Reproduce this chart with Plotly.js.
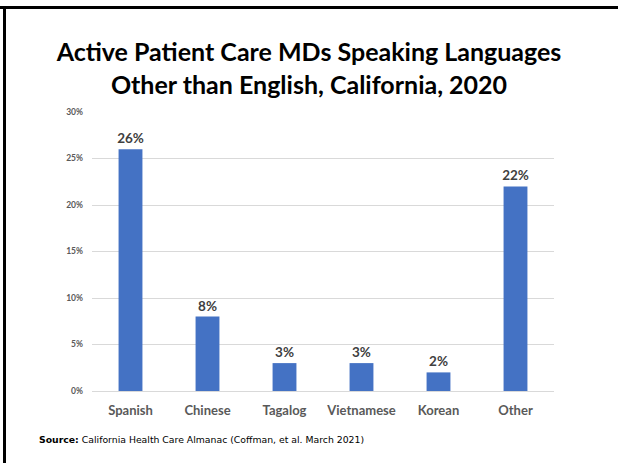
<!DOCTYPE html>
<html><head><meta charset="utf-8">
<script src="https://cdn.plot.ly/plotly-3.0.1.min.js"></script>
<style>html,body{margin:0;padding:0;background:#fff}#c{width:618px;height:463px}</style>
</head><body><div id="c"></div>
<script>
const categories = ["Spanish","Chinese","Tagalog","Vietnamese","Korean","Other"];
const shares = [26, 8, 3, 3, 2, 22];
const tickValues = [0,5,10,15,20,25,30];
const tickLabels = ["0%","5%","10%","15%","20%","25%","30%"];

const W=618,H=463,L=92,R=64,T=112,B=72;
const pw=W-L-R, ph=H-T-B;
const px = x => (x-L)/pw;
const py = y => (H-B-y)/ph;

Plotly.newPlot('c', [{
  type:'bar', x:categories, y:shares,
  marker:{color:'#4472C4'},
  text:shares.map(v=>v+'%'), textposition:'outside', cliponaxis:false, constraintext:'none',
  textfont:{family:'Lato, sans-serif', size:13.5, color:'#404040', weight:'bold'},
  hoverinfo:'none'
}], {
  width:W, height:H, margin:{l:L,r:R,t:T,b:B},
  paper_bgcolor:'#fff', plot_bgcolor:'#fff',
  bargap:0.69, showlegend:false,
  title:{text:'<b>Active Patient Care MDs Speaking Languages<br>Other than English, California, 2020</b>',
    font:{family:'Lato, sans-serif', size:25, color:'#000'}, x:0.5, xanchor:'center', y:1-61/H, yanchor:'middle'},
  xaxis:{tickfont:{family:'Lato, sans-serif', size:13, color:'#595959', weight:'bold'}, showline:false, ticks:'', ticklabelstandoff:10},
  yaxis:{range:[0,30], tickvals:tickValues, ticktext:tickLabels, gridcolor:'#d9d9d9', gridwidth:1,
    zeroline:true, zerolinecolor:'#d9d9d9', zerolinewidth:1,
    tickfont:{family:'Lato, sans-serif', size:8.5, color:'#595959', weight:'bold'}, ticklen:0, ticks:'', ticklabelstandoff:8},
  shapes:[
    {type:'line', xref:'paper', yref:'paper', x0:px(0), x1:px(W), y0:py(7.5), y1:py(7.5), line:{color:'#000', width:3}},
    {type:'line', xref:'paper', yref:'paper', x0:px(4.5), x1:px(4.5), y0:py(6), y1:py(H), line:{color:'#000', width:3}}
  ],
  annotations:[{xref:'paper', yref:'paper', x:px(37), y:py(439), xanchor:'left', yanchor:'middle', showarrow:false,
    text:'<b>Source:</b> California Health Care Almanac (Coffman, et al. March 2021)',
    font:{family:'DejaVu Sans, sans-serif', size:9.3, color:'#000'}}]
}, {staticPlot:true, displayModeBar:false});
</script></body></html>
